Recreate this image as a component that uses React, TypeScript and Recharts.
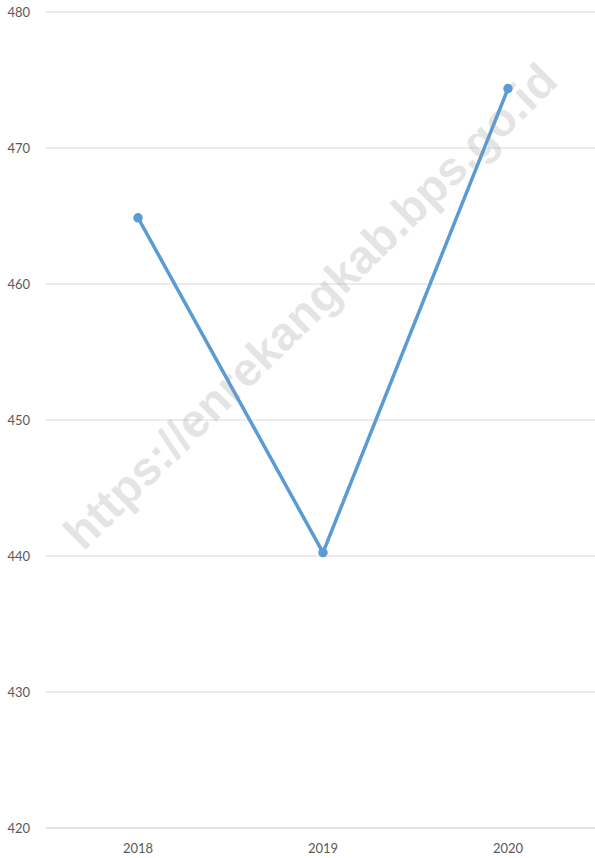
import React from "react";
import { LineChart, Line, XAxis, YAxis, CartesianGrid } from "recharts";

const years = ["2018", "2019", "2020"];
const values = [464.87, 440.25, 474.37];
const yTicks = [420, 430, 440, 450, 460, 470, 480];

const data = years.map((year, i) => ({ year, value: values[i] }));

const tickStyle = { fontFamily: "Lato, 'Noto Sans', sans-serif", fontSize: 13, fill: "#595959" };

export default function App() {
  return (
    <div style={{ position: "fixed", left: 0, top: 0, width: 595, height: 858, overflow: "hidden", background: "#fff" }}>
      <LineChart width={601} height={858} data={data} margin={{ top: 12, right: 0, left: 0, bottom: 0 }}>
        <CartesianGrid vertical={false} stroke="#d9d9d9" strokeWidth={1} />
        <XAxis
          dataKey="year"
          axisLine={{ stroke: "#d9d9d9" }}
          tickLine={false}
          tick={tickStyle}
          tickMargin={10}
          height={30}
          padding={{ left: 92, right: 93 }}
        />
        <YAxis
          domain={[420, 480]}
          ticks={yTicks}
          axisLine={false}
          tickLine={false}
          tick={tickStyle}
          tickMargin={10}
          width={46}
          interval={0}
        />
        <Line
          type="linear"
          dataKey="value"
          stroke="#5b9bd5"
          strokeWidth={3.5}
          dot={{ r: 4, fill: "#5b9bd5", stroke: "#5b9bd5", strokeWidth: 1.5 }}
          isAnimationActive={false}
        />
      </LineChart>
      <div
        style={{
          position: "absolute",
          left: 310,
          top: 306,
          transform: "translate(-50%, -50%) rotate(-44.5deg)",
          whiteSpace: "nowrap",
          fontFamily: "'Liberation Sans', Arial, sans-serif",
          fontWeight: "bold",
          fontSize: 47,
          color: "rgba(150,150,150,0.25)",
          pointerEvents: "none",
        }}
      >
        https://enrekangkab.bps.go.id
      </div>
    </div>
  );
}
